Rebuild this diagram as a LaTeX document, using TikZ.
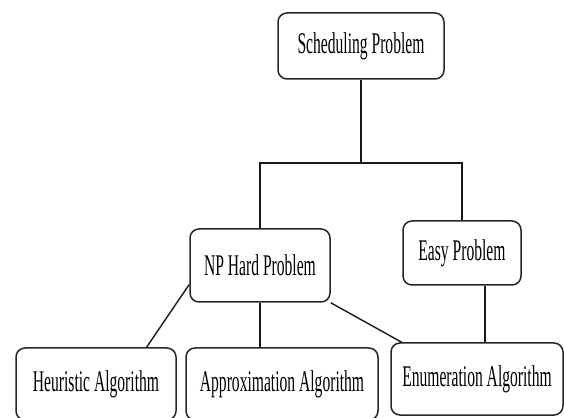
\documentclass[tikz,border=0pt]{standalone}
\usepackage{fontspec}
\setmainfont{Liberation Serif}[FakeStretch=0.52]
\usetikzlibrary{positioning}

\begin{document}
\begin{tikzpicture}[x=1pt,y=1pt]
\tikzstyle{box}=[rectangle, rounded corners=9pt, inner sep=0pt,
	line width=1.5pt, draw=black!85, minimum height=72pt,
	font=\fontsize{30}{34}\selectfont
]
\tikzstyle{link}=[-, line width=1.4pt, draw=black!90]
\useasboundingbox (0,0) rectangle (564,417);
\node[box, minimum width=166pt, minimum height=66pt] (sched) at (361,371) {Scheduling Problem};
\node[box, minimum width=140pt, minimum height=73pt] (np) at (260,151.5) {NP Hard Problem};
\node[box, minimum width=118pt, minimum height=64pt] (easy) at (462,164) {Easy Problem};
\node[box, minimum width=160pt] (heur) at (96,33) {Heuristic Algorithm};
\node[box, minimum width=192pt] (approx) at (282,33) {Approximation Algorithm};
\node[box, minimum width=172pt] (enum) at (477,38) {Enumeration Algorithm};
\coordinate (split) at (361,254);
\path[link] (sched) edge (split) ;
\draw[link] (np.north) |- (split) -| (easy.north) ;
\path[link] (np.195) edge (heur.36) ;
\path[link] (np.south) edge (np.south |- approx.north) ;
\path[link] (np.south east) edge (enum.154) ;
\path[link] ([xshift=23pt]easy.south) edge ([xshift=23pt]easy.south |- enum.north) ;

\end{tikzpicture}
\end{document}
